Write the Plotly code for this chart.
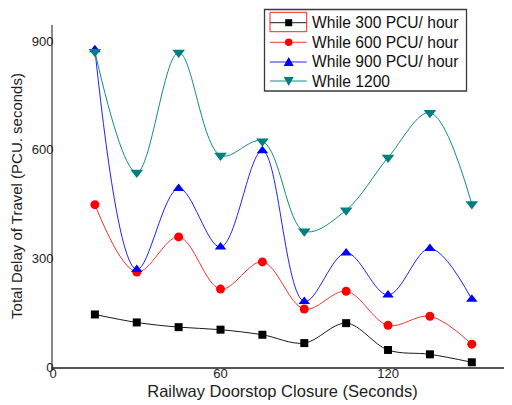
import plotly.graph_objects as go

closure_seconds = [15, 30, 45, 60, 75, 90, 105, 120, 135, 150]
delay_300 = [145, 123, 110, 103, 89, 66, 121, 47, 35, 13]
delay_600 = [448, 262, 359, 215, 290, 160, 209, 115, 140, 63]
delay_900 = [876, 269, 493, 331, 597, 181, 315, 199, 327, 187]
delay_1200 = [870, 537, 868, 584, 623, 375, 433, 578, 702, 450]

series_names = ["While 300 PCU/ hour", "While 600 PCU/ hour", "While 900 PCU/ hour", "While 1200"]
x_ticks = [0, 60, 120]
y_ticks = [0, 300, 600, 900]

line_colors = ["#1a1a1a", "#ff3030", "#2020ff", "#138a8a"]
marker_colors = ["#000000", "#ff0000", "#0000ff", "#007f7f"]
marker_symbols = ["square", "circle", "triangle-up", "triangle-down"]
marker_sizes = [8, 9, 10, 11]

fig = go.Figure()
for name, ys, lc, mc, ms, sz in zip(series_names, [delay_300, delay_600, delay_900, delay_1200],
                                    line_colors, marker_colors, marker_symbols, marker_sizes):
    fig.add_trace(go.Scatter(x=closure_seconds, y=ys, name=name, mode="lines+markers",
                             line=dict(color=lc, width=1, shape="spline"),
                             marker=dict(symbol=ms, size=sz, color=mc),
                             cliponaxis=False, showlegend=False))

# the page body adds an 8px offset; the figure is sized to fill the rest of the window
OFF = 8
W, H = 512 - OFF, 405 - OFF
L, T, B = 53 - OFF, 25 - OFF, 405 - 367
PW, PH = W - L, H - T - B


def px(x):  # window pixel -> paper x
    return (x - 53) / PW


def py(y):  # window pixel -> paper y
    return (367 - y) / PH


font_family = "Liberation Sans, Arial, sans-serif"

# ---- legend drawn as a boxed key (layout decoration) ----
shapes = [
    dict(type="rect", xref="paper", yref="paper", layer="below",
         x0=px(264.5), x1=px(466.5), y0=py(91), y1=py(9.5),
         line=dict(color="#3a3a3a", width=1.3), fillcolor="white"),
]
annotations = []
row_y = [22.7, 42.3, 62.0, 81.0]
sym_x0, sym_x1, sym_cx = 270.0, 306.7, 288.7
for i, (name, yy) in enumerate(zip(series_names, row_y)):
    shapes.append(dict(type="line", xref="paper", yref="paper",
                       x0=px(sym_x0), x1=px(sym_x1), y0=py(yy), y1=py(yy),
                       line=dict(color=line_colors[i], width=1)))
    sym = marker_symbols[i]
    if sym == "square":
        shapes.append(dict(type="rect", xref="paper", yref="paper",
                           x0=px(sym_cx - 3.5), x1=px(sym_cx + 3.5), y0=py(yy + 3.5), y1=py(yy - 3.5),
                           line=dict(width=0), fillcolor=marker_colors[i]))
    elif sym == "circle":
        shapes.append(dict(type="circle", xref="paper", yref="paper",
                           x0=px(sym_cx - 3.8), x1=px(sym_cx + 3.8), y0=py(yy + 3.8), y1=py(yy - 3.8),
                           line=dict(width=0), fillcolor=marker_colors[i]))
    else:
        s = -1 if sym == "triangle-up" else 1
        pts = [(sym_cx, yy + s * 5), (sym_cx - 5, yy - s * 4), (sym_cx + 5, yy - s * 4)]
        path = "M {} {} L {} {} L {} {} Z".format(*[v for p in pts for v in (px(p[0]), py(p[1]))])
        shapes.append(dict(type="path", xref="paper", yref="paper", path=path,
                           line=dict(width=0), fillcolor=marker_colors[i]))
    annotations.append(dict(text=name, xref="paper", yref="paper", x=px(309.5), y=py(yy),
                            xanchor="left", yanchor="middle", showarrow=False,
                            font=dict(size=15.6, family=font_family, color="#111111")))

shapes.append(dict(type="rect", xref="paper", yref="paper",
                   x0=px(270), x1=px(306.7), y0=py(31.7), y1=py(12.3),
                   line=dict(color="#ff2020", width=1), fillcolor="rgba(0,0,0,0)"))

fig.update_layout(
    width=W, height=H,
    margin=dict(l=L, r=0, t=T, b=B, autoexpand=False),
    paper_bgcolor="white", plot_bgcolor="white",
    font=dict(family=font_family, color="#222222"),
    showlegend=False,
    xaxis=dict(
        range=[0, 164.4], tickvals=x_ticks, ticks="", showgrid=False, zeroline=False,
        showline=True, linecolor="#555555", linewidth=1.5, automargin=False,
        tickfont=dict(size=13, color="#222222"), ticklabelstandoff=-6,
        title=dict(text="Railway Doorstop Closure (Seconds)", font=dict(size=16.5, color="#222222"), standoff=5),
    ),
    yaxis=dict(
        range=[0, 944], tickvals=y_ticks, ticks="", showgrid=False, zeroline=False,
        showline=True, linecolor="#888888", linewidth=2, automargin=False,
        tickfont=dict(size=13, color="#222222"), ticklabelstandoff=-5,
        title=dict(text="Total Delay of Travel (PCU. seconds)", font=dict(size=15, color="#222222"), standoff=6),
    ),
    shapes=shapes,
    annotations=annotations,
)

fig.write_html("out.html")
